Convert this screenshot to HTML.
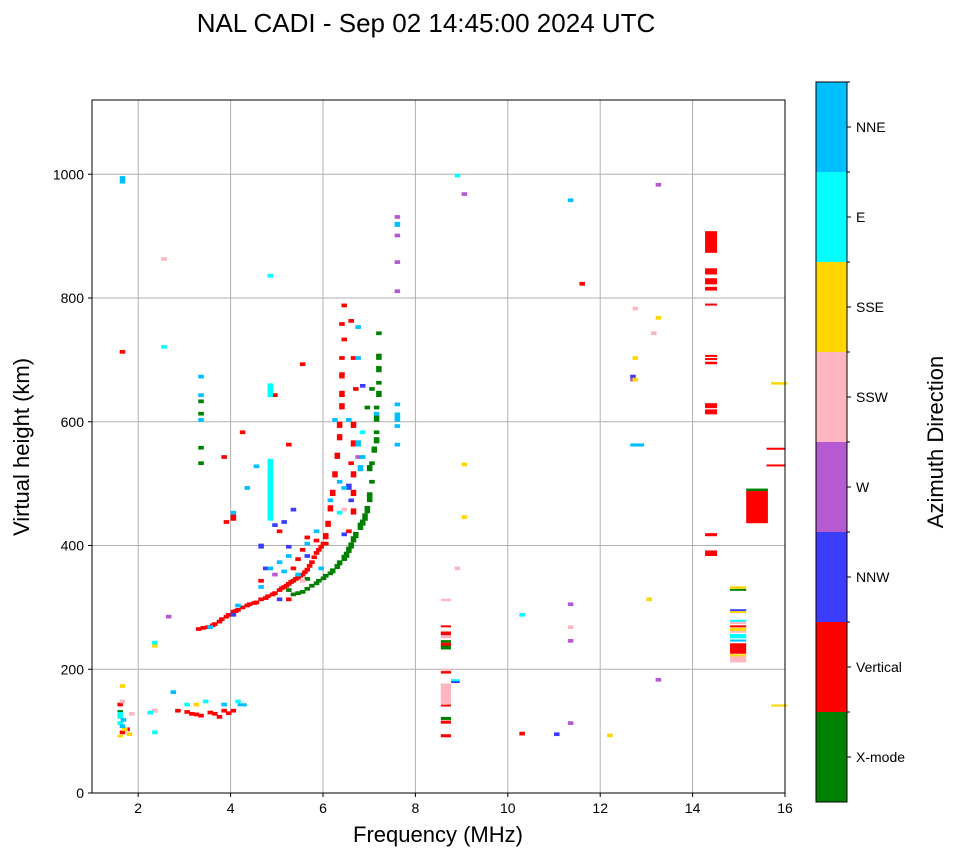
<!DOCTYPE html>
<html><head><meta charset="utf-8"><style>
body{margin:0;background:#fff;}
svg text{font-family:"Liberation Sans","DejaVu Sans",sans-serif;}
</style></head><body>
<svg id="chart" width="958" height="857" xmlns="http://www.w3.org/2000/svg"></svg>
<script>
// ---- data: [freq MHz, virtual height km, height extent km (opt), width MHz (opt)] ----
const dirNames = ["X-mode","Vertical","NNW","W","SSW","SSE","E","NNE"];
const dirColors = ["#008000","#ff0000","#3c3cff","#b45ad2","#ffb6c1","#ffd700","#00ffff","#00bfff"];
const xTicks = [2,4,6,8,10,12,14,16];
const yTicks = [0,200,400,600,800,1000];
const xmode = [[5.3,318],[5.4,320],[5.5,322],[5.6,327],[5.7,332],[5.8,336],[5.85,340],[5.95,344],[6.0,348],[6.1,352],[6.15,355,8],[6.25,362,8],[6.3,368,8],[6.4,375,10],[6.45,380,10],[6.5,388,10],[6.55,395,10],[6.6,405,10],[6.65,412,10],[6.75,425,12],[6.8,432,10],[6.85,440,12],[6.9,452,12],[6.95,470,12],[6.95,480],[7.0,500],[6.95,520,10],[7.0,530],[7.05,550,10],[7.1,565,10],[7.1,580],[7.1,600,10],[7.1,620],[7.15,640,10],[7.15,660],[7.15,680,10],[7.15,700,10],[7.15,740],[3.3,530],[3.3,555],[3.3,610],[3.3,630],[6.9,620],[7.0,650],[8.55,118,5,0.22],[8.55,232,8,0.22],[8.55,243,4,0.22],[1.55,130,4],[15.16,488,4,0.47],[14.81,327,3,0.35],[5.2,325],[5.6,343]];
const vertical = [[3.25,262],[3.35,264],[3.45,265],[3.55,268],[3.6,270],[3.7,274],[3.75,278],[3.85,282],[3.9,285],[4.0,290],[4.05,291],[4.1,293],[4.2,297],[4.3,300],[4.35,302],[4.45,304],[4.5,305],[4.6,310],[4.7,312],[4.75,315],[4.85,318],[4.9,320],[5.0,325],[5.05,328],[5.1,330],[5.15,332],[5.2,335],[5.25,338],[5.3,340],[5.35,343],[5.4,345],[5.45,348],[5.5,350],[5.55,354],[5.6,358],[5.65,364],[5.7,370],[5.75,378],[5.8,385],[5.85,390],[5.9,395],[5.95,400],[6.0,410,10],[6.05,430,10],[6.1,455,10],[6.15,480,10],[6.2,510,10],[6.25,540,10],[6.3,570,10],[6.3,590,10],[6.35,620,10],[6.35,640,10],[6.35,670,10],[6.35,700],[6.4,730],[6.35,755],[6.4,785],[6.6,590,10],[6.6,560,10],[6.55,530],[6.6,510,10],[6.6,480,10],[6.6,450,10],[6.5,420],[6.65,650],[6.6,700],[6.55,760],[6.0,400],[5.3,360],[5.5,390],[5.2,310],[4.6,340],[4.9,640],[5.2,560],[5.5,690],[4.2,580],[3.8,540],[4.0,440,10],[3.85,435],[5.0,420],[5.4,375],[5.6,410],[5.8,405],[2.8,130],[3.0,128],[3.1,125],[3.2,124],[3.3,122],[3.5,127],[3.6,125],[3.7,120],[3.8,130],[3.9,126],[4.0,130],[1.6,95],[1.7,100],[1.55,140],[1.6,710],[8.55,90,5,0.22],[8.55,112,5,0.22],[8.55,141,2,0.22],[8.55,193,4,0.22],[8.55,238,5,0.22],[8.55,255,6,0.22],[8.55,268,3,0.22],[10.25,93],[11.55,820],[14.27,383,9,0.26],[14.27,415,5,0.26],[14.27,612,8,0.26],[14.27,622,8,0.26],[14.27,693,4,0.26],[14.27,700,3,0.26],[14.27,705,3,0.26],[14.27,788,3,0.26],[14.27,812,6,0.26],[14.27,822,10,0.26],[14.27,838,10,0.26],[14.27,873,35,0.26],[14.81,225,17,0.35],[14.81,268,3,0.35],[15.16,436,52,0.47],[15.6,528,3,0.4],[15.6,555,3,0.4]];
const nnw = [[4.7,360],[4.9,430],[5.1,435],[6.5,490,10],[6.55,470],[6.4,415],[5.3,455],[4.6,395,8],[6.8,655],[5.0,310],[4.0,285],[5.2,395],[5.6,380],[11.0,92],[12.65,670],[14.81,294,3,0.35],[8.77,178,3,0.19]];
const w = [[7.55,928],[7.55,898],[7.55,855],[7.55,808],[6.7,540],[9.0,965],[13.2,980],[13.2,180],[11.3,302],[11.3,243],[11.3,110],[12.65,665],[4.9,350],[2.6,282],[2.3,130]];
const ssw = [[2.5,860],[1.8,125],[2.3,130],[12.7,780],[13.1,740],[8.85,360],[8.55,310,4,0.22],[11.3,265],[6.4,455],[5.5,340],[8.55,144,33,0.22],[8.55,198,3,0.22],[8.55,250,5,0.22],[14.81,211,10,0.35],[14.81,273,4,0.35],[14.81,259,3,0.35],[1.6,145]];
const sse = [[13.2,765],[12.7,700],[12.7,665],[13.0,310],[9.0,528],[9.0,443],[12.15,90],[15.7,660,4,0.35],[15.7,140,3,0.35],[1.6,170],[2.3,235],[1.65,100],[1.75,92],[1.55,90,4],[14.81,330,4,0.35],[14.81,291,3,0.35],[14.81,262,5,0.35],[14.81,221,3,0.35],[3.2,140]];
const east = [[4.8,440,100],[4.8,640,22],[2.5,718],[2.3,240],[2.3,95,6],[10.25,285],[8.85,995],[4.8,833],[4.1,145],[3.4,145],[3.0,140],[2.2,127],[1.55,110],[1.55,120],[1.55,125],[14.81,250,7,0.35],[14.81,277,3,0.35],[8.77,181,3,0.19],[6.8,580],[6.3,450]];
const nne = [[3.3,670],[3.3,640],[3.3,600],[4.6,330],[4.8,360],[5.0,370],[5.2,380],[5.4,350],[5.6,400],[5.8,420],[6.1,470],[6.4,490],[6.5,600],[6.7,560,10],[6.8,540],[6.75,520,10],[7.1,610],[7.55,560],[7.55,600,15],[7.55,625],[7.55,590],[6.7,700],[6.7,750],[6.2,600],[6.3,500],[5.9,360],[5.1,355],[1.6,985,12],[4.5,525],[4.3,490],[4.0,450],[3.5,265],[4.1,300],[7.55,915,8],[11.3,955],[3.8,140],[2.7,160],[1.6,105],[1.62,115],[14.81,245,3,0.35],[12.65,560,5,0.3],[4.15,140,5,0.2]];
const seriesList = [xmode,vertical,nnw,w,ssw,sse,east,nne];

const NS="http://www.w3.org/2000/svg";
const svg=document.getElementById('chart');
const L=92,R=785,T=100,B=793,xmin=1,xmax=16,ymin=0,ymax=1120;
const xs=f=>L+(f-xmin)/(xmax-xmin)*(R-L);
const ys=h=>B-(h-ymin)/(ymax-ymin)*(B-T);
function mk(tag,attrs,parent){const e=document.createElementNS(NS,tag);for(const k in attrs)e.setAttribute(k,attrs[k]);(parent||svg).appendChild(e);return e;}

const title=mk('text',{x:426,y:32,'font-size':26,'text-anchor':'middle'});


title.textContent='NAL CADI - Sep 02 14:45:00 2024 UTC';

const grid=mk('g',{});


xTicks.forEach(t=>{const x=xs(t);
 const l=mk('line',{x1:x,x2:x,y1:T,y2:B,stroke:'#b0b0b0','stroke-width':1},grid);
 
 });
yTicks.forEach(t=>{const y=ys(t);
 const l=mk('line',{x1:L,x2:R,y1:y,y2:y,stroke:'#b0b0b0','stroke-width':1},grid);
 
 });

const marks=mk('g',{});


seriesList.forEach((s,i)=>{s.forEach(p=>{
 const f=p[0],h=p[1],dh=p[2]||6,wd=p[3]||0.12;
 const x1=xs(f),x2=xs(f+wd),y1=ys(h+dh),y2=ys(h);
 const r=mk('rect',{x:x1,y:y1,width:Math.max(1,x2-x1),height:Math.max(2,y2-y1),fill:dirColors[i]},marks);
 
 
});});

const frame=mk('rect',{x:L,y:T,width:R-L,height:B-T,fill:'none',stroke:'#000','stroke-width':1});


xTicks.forEach(t=>{const x=xs(t);
 mk('line',{x1:x,x2:x,y1:B,y2:B+4,stroke:'#000'});
 const tx=mk('text',{x:x,y:B+20,'font-size':14,'text-anchor':'middle'});
 
 
 tx.textContent=t;});
yTicks.forEach(t=>{const y=ys(t);
 mk('line',{x1:L-4,x2:L,y1:y,y2:y,stroke:'#000'});
 const tx=mk('text',{x:L-8,y:y+5,'font-size':14,'text-anchor':'end'});
 
 
 tx.textContent=t;});
const xl=mk('text',{x:438,y:842,'font-size':22,'text-anchor':'middle'});


xl.textContent='Frequency (MHz)';
const yl=mk('text',{x:29,y:447,'font-size':22,'text-anchor':'middle',transform:'rotate(-90 29 447)'});


yl.textContent='Virtual height (km)';

const cb=mk('g',{});


const cT=82,cB=802,cL=816,cW=31,seg=(cB-cT)/dirNames.length;
dirNames.forEach((n,i)=>{const y=cB-(i+1)*seg;
 const r=mk('rect',{x:cL,y:y,width:cW,height:seg,fill:dirColors[i]},cb);
 
 
 mk('line',{x1:cL+cW,x2:cL+cW+4,y1:y+seg/2,y2:y+seg/2,stroke:'#000'},cb);
 mk('line',{x1:cL+cW,x2:cL+cW+3,y1:y,y2:y,stroke:'#000'},cb);
 const t=mk('text',{x:cL+cW+9,y:y+seg/2+5,'font-size':14},cb);
 
 
 t.textContent=n;});
mk('rect',{x:cL,y:cT,width:cW,height:cB-cT,fill:'none',stroke:'#000'},cb);
const ct=mk('text',{x:943,y:442,'font-size':22,'text-anchor':'middle',transform:'rotate(-90 943 442)'});


ct.textContent='Azimuth Direction';
</script>
</body></html>
